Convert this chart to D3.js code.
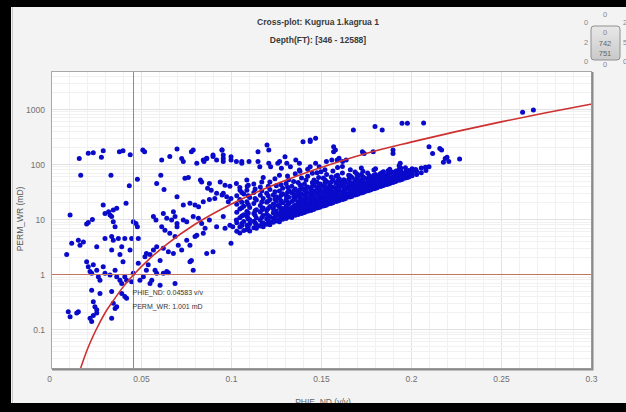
<!DOCTYPE html>
<html>
<head>
<meta charset="utf-8">
<script src="https://cdn.jsdelivr.net/npm/d3@7"></script>
<style>
  body { margin: 0; background: #000; }
  svg { display: block; }
</style>
</head>
<body>
<div id="chart"></div>
<script>
// chart texts
const title1 = "Cross-plot: Kugrua 1.kagrua 1"
const title2 = "Depth(FT): [346 - 12588]"
const xTitle = "PHIE_ND (v/v)"
const yTitle = "PERM_WR (mD)"

const xTicks = [0, 0.05, 0.1, 0.15, 0.2, 0.25, 0.3]
const xTickLabels = ["0", "0.05", "0.1", "0.15", "0.2", "0.25", "0.3"]
const yTicks = [0.1, 1, 10, 100, 1000]
const yTickLabels = ["0.1", "1", "10", "100", "1000"]

// crosshair readout
const cursorPhi = 0.04583
const cursorPerm = 1.001

// scattered samples [PHIE_ND, PERM_WR]
const samples = [
  [0.0157,129],[0.0207,160],[0.0235,163],[0.029,178],[0.028,135],[0.038,171],[0.040,178],[0.044,150],
  [0.051,184],[0.052,171],[0.0615,121],[0.070,192],[0.066,139],[0.0726,129],[0.0735,113],[0.078,171],
  [0.079,184],[0.081,105],[0.0846,121],[0.0865,129],[0.090,139],[0.095,184],[0.0957,129],[0.100,121],[0.106,113],
  [0.0165,64],[0.0333,64],[0.048,54],[0.061,64],[0.0744,56],[0.0763,58],[0.083,52],[0.0837,48],[0.088,45],
  [0.094,48],[0.0967,42],[0.0994,40],[0.103,45],[0.105,34],[0.109,40],[0.0435,41],[0.0587,45],[0.0628,35],
  [0.087,37],[0.089,34],[0.092,30],[0.095,28],[0.0976,26],[0.100,24],
  [0.070,26],[0.029,18.4],[0.032,13.9],[0.030,12.9],[0.0328,12.1],[0.0346,14.9],[0.0365,16],[0.0417,19.7],
  [0.0735,18.4],[0.0772,19.7],[0.080,18.4],[0.082,17.1],[0.0846,21],[0.088,23],[0.091,24],[0.0957,30],[0.0985,21],
  [0.0106,12.1],[0.023,10],[0.0198,8.3],[0.0207,8.8],[0.0337,11.3],[0.0346,9.1],[0.0356,7.4],[0.0457,9.1],
  [0.0472,8.5],[0.048,7.4],[0.0569,11.3],[0.0583,9.8],[0.0624,12.9],[0.0643,10.5],[0.067,9.8],[0.068,13.9],
  [0.0689,11.3],[0.070,8.5],[0.0735,9.8],[0.0754,9.1],[0.079,11.3],[0.0819,10.5],[0.0837,8.5],[0.0856,6.9],
  [0.088,9.8],[0.092,7.4],[0.0957,11.3],[0.0967,6.9],[0.0994,7.9],[0.101,7.4],[0.103,9.8],[0.106,8.5],[0.109,11.3],
  [0.0152,4.2],[0.0161,3.4],[0.0115,3.7],[0.018,3.9],[0.0254,3.2],[0.030,4.5],[0.0337,4.9],[0.0346,4.2],
  [0.0374,4.5],[0.041,4.5],[0.0448,4.5],[0.0485,4.5],[0.0337,2.8],[0.0383,2.3],[0.0393,3.2],[0.0087,2.3],
  [0.040,1.7],[0.0439,2.8],[0.053,2.4],[0.0522,2.1],[0.055,2.3],[0.0569,2.8],[0.0587,3.2],[0.0606,1.8],
  [0.0624,3.0],[0.0652,2.6],[0.068,2.4],[0.0707,3.4],[0.0726,2.8],[0.0754,4.2],[0.0772,3.4],[0.081,5.2],
  [0.080,4.9],[0.0846,5.6],[0.0865,2.4],[0.090,2.6],[0.100,3.7],[0.0615,7.4],[0.0633,6.4],[0.066,5.6],
  [0.0689,4.9],[0.070,7.4],
  [0.0198,1.7],[0.0207,1.39],[0.0217,1.13],[0.0226,1.05],[0.0235,1.5],[0.0254,1.2],[0.0263,0.91],[0.029,1.39],
  [0.030,1.05],[0.0272,0.79],[0.0328,0.98],[0.0356,1.2],[0.0365,0.91],[0.0383,0.79],[0.0393,0.69],[0.041,0.91],
  [0.042,0.79],[0.0448,0.74],[0.0457,1.05],[0.0494,0.79],[0.0513,0.91],[0.053,1.2],[0.054,1.5],[0.055,0.69],
  [0.056,0.79],[0.0578,1.2],[0.0587,1.05],[0.0606,0.64],[0.0624,1.05],[0.0643,1.13],[0.0652,1.08],[0.0689,0.69],
  [0.0772,1.7],[0.078,1.8],[0.079,1.2],[0.0485,1.6],
  [0.0226,0.52],[0.0272,0.45],[0.0337,0.49],[0.0393,0.45],[0.042,0.37],[0.041,0.40],[0.0235,0.32],[0.0244,0.26],
  [0.0254,0.23],[0.0346,0.30],[0.0356,0.24],[0.0365,0.26],[0.0096,0.21],[0.0106,0.17],[0.0143,0.20],[0.0152,0.21],
  [0.0217,0.16],[0.0235,0.18],[0.0226,0.14],[0.0254,0.20],[0.0337,0.16],
  [0.168,424],[0.180,490],[0.184,424],[0.195,560],[0.198,560],[0.207,570],[0.140,260],[0.144,279],[0.147,299],
  [0.120,226],[0.121,184],[0.115,171],[0.157,211],[0.157,171],[0.158,184],[0.095,184],[0.0957,149],[0.0957,113],
  [0.090,149],[0.0865,130],[0.085,113],[0.092,121],[0.100,138],[0.106,105],[0.103,113],[0.110,113],[0.115,113],
  [0.116,91],[0.121,105],[0.122,91],[0.126,105],[0.127,113],[0.128,85],[0.130,138],[0.131,105],[0.133,91],
  [0.136,121],[0.138,105],[0.138,79],[0.144,91],[0.147,105],[0.149,91],[0.150,74],[0.153,113],[0.156,121],
  [0.159,121],[0.160,130],[0.162,113],[0.164,121],[0.173,171],[0.174,159],[0.179,171],[0.190,184],[0.190,159],
  [0.194,105],[0.210,211],[0.212,159],[0.216,196],[0.219,129],[0.221,113],[0.217,184],[0.227,126],[0.220,135],
  [0.218,110],[0.210,91],[0.208,89],[0.2026,81],[0.201,77],[0.144,262],[0.262,890],[0.268,980]
]

// dense band, one column of PERM_WR readings per PHIE_ND value
const bandColumns = [
  [0.1032,[6.1,8.7,13.5,19,27]],
  [0.1049,[5.7,7.3,10.8,15.5,23,38]],
  [0.1060,[7.8,11.6,16.4,20.5,31]],
  [0.1071,[6.3,9.2,12.2,17.5,29]],
  [0.1088,[6.6,7.9,11.4,14,21,34,52]],
  [0.1096,[7.3,10.2,13.1,18.8,27,42]],
  [0.1104,[6.2,8.4,9.9,16.5,25]],
  [0.1127,[7.1,9.3,12.8,19.5,31,44]],
  [0.1134,[8.7,11.9,14.4,24,36]],
  [0.1141,[6.9,8.1,10.6,15,22.5]],
  [0.1163,[7.6,9.8,13.7,18,27.5,39]],
  [0.1171,[8.3,10.9,14.9,20.8,33,48]],
  [0.1179,[7.4,8.6,11.8,16.2,24,58]],
  [0.1198,[8.2,10.2,12.4,14.8,20.5,30]],
  [0.1207,[9.6,11.7,15.9,21.8,27,40]],
  [0.1216,[8.0,9.1,11.2,17.2,23,35,48]],
  [0.1235,[8.9,10.6,13.3,15.7,19.2,28]],
  [0.1244,[9.9,12.7,17.9,23.5,32,55]],
  [0.1252,[9.4,11.8,14.2,21.5,26,41]],
  [0.1269,[9.1,10.3,12.6,16.8,18.5,24.5,33,64]],
  [0.1278,[11.1,13.2,15.3,22,27.5,43]],
  [0.1287,[10.1,11.4,13.9,15.9,20.2,29.5,37]],
  [0.1306,[10.4,12.2,14.6,17.6,22.8,27,45]],
  [0.1314,[11.7,13.9,16.4,20.8,31,39,62]],
  [0.1321,[11.1,13.1,15.3,19.4,25.5,34,53]],
  [0.1338,[10.9,12.4,14.1,16.4,21.2,30.5,40]],
  [0.1348,[12.7,14.9,17.5,22.4,26,33,49]],
  [0.1357,[11.9,13.6,16.1,18.2,23.5,28,36,68]],
  [0.1373,[12.3,14.4,17.3,20.6,26.5,32,47]],
  [0.1383,[13.2,16.2,18.5,22.3,28.4,35,43,75]],
  [0.1392,[12.9,13.8,15.6,19,24.2,29.5,38,57]],
  [0.1408,[13.4,15.2,17.8,21.7,27.5,34.5,44]],
  [0.1417,[14.3,16.9,19.9,23.6,30,37,52]],
  [0.1426,[14.1,16.3,18.6,20.4,25,31,39,61,82]],
  [0.1443,[14.6,15.7,19.2,22.8,28.5,36]],
  [0.1452,[15.1,18.2,21.2,26.2,31.5,40,47,69]],
  [0.1461,[15.3,17.4,20.8,24.6,27,33,42,52]],
  [0.1478,[16.2,18.1,21.4,23.8,30,37.5,48,71]],
  [0.1487,[16.6,19.3,23.1,27.3,33.5,41,58]],
  [0.1496,[16.8,19.5,22.5,26,29,35,44]],
  [0.1513,[17.6,18.9,21.9,25.3,31.5,40,57]],
  [0.1522,[17.9,20.7,24.6,28.8,36.5,46,53,80]],
  [0.1531,[18.4,20.3,23.7,27.8,33,38,49,66]],
  [0.1548,[19.3,21.6,24.4,29,35.5,43]],
  [0.1557,[19.8,22.8,26.9,31,37.5,48,59]],
  [0.1566,[20.1,22.4,25.8,28.2,32,39,52,76]],
  [0.1583,[21.2,23.3,27.1,30.6,36.5,46,61]],
  [0.1592,[21.6,24.2,28.8,34.6,40,50,64,88]],
  [0.1601,[22.1,24.8,26.6,33.2,38,45,55]],
  [0.1619,[23.2,25.3,28.4,31.9,41,50,70,92]],
  [0.1627,[23.7,26.1,30.6,36.8,44,53]],
  [0.1636,[24.1,26.9,30.1,34.8,39,48]],
  [0.1654,[25.6,27.8,29.6,36.2,43,54,64]],
  [0.1663,[26,29,33.3,39.6,47,62,80]],
  [0.1672,[26.4,29.3,32.4,38.3,46,58]],
  [0.1689,[27.8,30.7,34.1,37,42,51,73]],
  [0.1698,[28.4,31.2,36.4,43.6,56,68]],
  [0.1707,[29.1,31.6,35.9,40.5,49,61]],
  [0.1724,[30.2,33.4,37.6,44,53,66,86]],
  [0.1733,[31,33.9,40.6,47.6,60,75]],
  [0.1742,[31.8,34.6,39.2,42.5,47,57]],
  [0.1759,[33.3,36.2,41.4,46.5,55,70]],
  [0.1768,[34.1,37.3,44.7,52.4,63]],
  [0.1777,[34.9,38.1,43.2,50.5,59]],
  [0.1794,[36.1,39.8,45.3,53,64,79]],
  [0.1803,[37,40.7,48.6,57,66,84]],
  [0.1812,[37.9,41.6,47.4,55.5,61]],
  [0.1829,[39.6,43.7,49.8,58,68]],
  [0.1838,[40.5,44.6,51,60,71]],
  [0.1847,[41.4,45.2,52.1,62,74]],
  [0.1864,[43.2,47.6,54.5,65]],
  [0.1873,[44.2,48.9,55.6,63,77]],
  [0.1882,[45.3,49.8,57,69,82]],
  [0.1899,[47.1,52.2,59.5,72]],
  [0.1908,[48.3,53.1,61.5,70]],
  [0.1917,[49.4,54.6,63,76]],
  [0.1934,[51.6,57.3,66,81,95]],
  [0.1943,[52.8,58.6,67,75,86]],
  [0.1952,[54.1,60.2,69]],
  [0.1969,[56.7,62.8,73,87]],
  [0.1978,[58,64,71]],
  [0.1988,[59.4,66.5,78]],
  [0.2006,[62.3,71,84]],
  [0.2031,[66,75]],
  [0.2057,[71,86]],
  [0.2083,[78]]
]

// fitted trend curve
const fitPhi  = [0.0165, 0.02, 0.025, 0.03, 0.035, 0.04, 0.046, 0.055, 0.065, 0.08, 0.1, 0.125, 0.15, 0.175, 0.2, 0.225, 0.25, 0.275, 0.3]
const fitPerm = [0.02, 0.042, 0.098, 0.2, 0.35, 0.59, 1, 1.97, 3.7, 8.2, 19, 44, 88, 159, 255, 395, 595, 870, 1250]

// sample counter widget
const counterTop = "0", counterMid = "742", counterBot = "751"

const W = 626, H = 412
let dim = {left: 51, right: 591, top: 71, bottom: 368}

let svg = d3.select('#chart').append('svg')
    .attr('width', W)
    .attr('height', H)
    .style('font-family', '"Liberation Sans", Arial, sans-serif')

// frame and panel
svg.append('rect').attr('width', W).attr('height', H).attr('fill', '#000')
svg.append('rect')
    .attr('x', 11).attr('y', 7).attr('width', W - 11).attr('height', 396)
    .attr('fill', '#f3f3f3')
svg.append('line')
    .attr('x1', 12.5).attr('x2', 12.5).attr('y1', 7).attr('y2', 403)
    .attr('stroke', '#c8c8c8')

let scaleX = d3.scaleLinear().domain([0, 0.3]).range([dim.left, dim.right])
let scaleY = d3.scaleLog().domain([0.02, 5000]).range([dim.bottom, dim.top])

// plot background
svg.append('rect')
    .attr('x', dim.left).attr('y', dim.top)
    .attr('width', dim.right - dim.left).attr('height', dim.bottom - dim.top)
    .attr('fill', '#fff')

// grid
let grid = svg.append('g')
let minorX = d3.range(1, 30).map(i => i / 100)
grid.selectAll('.gx')
    .data(minorX)
    .enter().append('line')
    .attr('x1', d => scaleX(d)).attr('x2', d => scaleX(d))
    .attr('y1', dim.top).attr('y2', dim.bottom)
    .attr('stroke', d => xTicks.some(t => Math.abs(t - d) < 1e-9) ? '#e2e2e2' : '#f1f1f1')
    .attr('shape-rendering', 'crispEdges')

let minorY = scaleY.ticks().filter(d => d > 0.02 && d < 5000)
grid.selectAll('.gy')
    .data(minorY)
    .enter().append('line')
    .attr('x1', dim.left).attr('x2', dim.right)
    .attr('y1', d => scaleY(d)).attr('y2', d => scaleY(d))
    .attr('stroke', d => yTicks.includes(d) ? '#e2e2e2' : '#f1f1f1')
    .attr('shape-rendering', 'crispEdges')

// points
let points = samples.concat(bandColumns.flatMap(c => c[1].map(p => [c[0], p])))
svg.append('g')
    .selectAll('circle')
    .data(points)
    .enter().append('circle')
    .attr('cx', d => scaleX(d[0]))
    .attr('cy', d => scaleY(d[1]))
    .attr('r', 2.5)
    .attr('fill', '#0a0acb')

// crosshair
let cx = Math.round(scaleX(cursorPhi)) + 0.5
let cy = Math.round(scaleY(cursorPerm)) + 0.5
svg.append('line')
    .attr('x1', cx).attr('x2', cx)
    .attr('y1', dim.top).attr('y2', dim.bottom)
    .attr('stroke', '#c47563').attr('stroke-width', 1)
svg.append('line')
    .attr('x1', dim.left).attr('x2', dim.right)
    .attr('y1', cy).attr('y2', cy)
    .attr('stroke', '#c47563').attr('stroke-width', 1)

// fit curve
let fit = fitPhi.map((p, i) => [p, fitPerm[i]])
svg.append('path')
    .datum(fit)
    .attr('fill', 'none')
    .attr('stroke', '#cc3030')
    .attr('stroke-width', 1.6)
    .attr('d', d3.line().x(d => scaleX(d[0])).y(d => scaleY(d[1])).curve(d3.curveMonotoneX))

// readout text
let readout = svg.append('g')
    .attr('font-size', 7).attr('fill', '#333')
readout.append('text')
    .attr('x', cx - 1).attr('y', cy + 20)
    .text('PHIE_ND: ' + cursorPhi + ' v/v')
readout.append('text')
    .attr('x', cx - 1).attr('y', cy + 34)
    .text('PERM_WR: ' + cursorPerm + ' mD')

// plot border
svg.append('rect')
    .attr('x', dim.left + 0.5).attr('y', dim.top + 0.5)
    .attr('width', dim.right - dim.left).attr('height', dim.bottom - dim.top)
    .attr('fill', 'none').attr('stroke', '#a8a8a8')
svg.append('path')
    .attr('d', `M${dim.right + 1.5},${dim.top + 1}V${dim.bottom + 1.5}H${dim.left + 1}`)
    .attr('fill', 'none').attr('stroke', '#8a8a8a').attr('stroke-width', 2)

// axes
let axisX = d3.axisBottom(scaleX).tickValues(xTicks).tickSize(0).tickPadding(8)
    .tickFormat((d, i) => xTickLabels[i])
let axisY = d3.axisLeft(scaleY).tickValues(yTicks).tickSize(0).tickPadding(6)
    .tickFormat((d, i) => yTickLabels[i])

let gx = svg.append('g')
    .attr('transform', `translate(0,${dim.bottom})`)
    .call(axisX)
let gy = svg.append('g')
    .attr('transform', `translate(${dim.left},0)`)
    .call(axisY)
;[gx, gy].forEach(g => {
    g.select('.domain').remove()
    g.selectAll('text')
        .attr('fill', '#707070')
        .style('font-family', '"Liberation Sans", Arial, sans-serif')
        .style('font-size', '8.5px')
})
gx.select('text').attr('dx', -2)

// axis titles
svg.append('text')
    .attr('transform', 'translate(23,219) rotate(-90)')
    .attr('text-anchor', 'middle')
    .attr('font-size', 8.5).attr('fill', '#555')
    .text(yTitle)
svg.append('text')
    .attr('x', 323).attr('y', 405)
    .attr('text-anchor', 'middle')
    .attr('font-size', 8.5).attr('fill', '#666')
    .text(xTitle)

// titles
svg.append('text')
    .attr('x', 318).attr('y', 25)
    .attr('text-anchor', 'middle')
    .attr('font-size', 8.5).attr('font-weight', 'bold').attr('fill', '#3a3a3a')
    .text(title1)
svg.append('text')
    .attr('x', 318).attr('y', 43)
    .attr('text-anchor', 'middle')
    .attr('font-size', 8.5).attr('font-weight', 'bold').attr('fill', '#3a3a3a')
    .text(title2)

// counter widget
let defs = svg.append('defs')
let grad = defs.append('linearGradient').attr('id', 'cbox').attr('x1', 0).attr('x2', 0).attr('y1', 0).attr('y2', 1)
grad.append('stop').attr('offset', '0%').attr('stop-color', '#e8e8e8')
grad.append('stop').attr('offset', '100%').attr('stop-color', '#c9c9c9')
let wg = svg.append('g')
    .attr('font-size', 7.5).attr('fill', '#888').attr('text-anchor', 'middle')
wg.append('rect')
    .attr('x', 591).attr('y', 26).attr('width', 29).attr('height', 34).attr('rx', 3)
    .attr('fill', 'url(#cbox)').attr('stroke', '#909090')
let corner = [[605, 17, '0'], [586, 25, '0'], [625, 25, '2'], [586, 45, '2'], [625, 45, '5'],
              [586, 64, '0'], [625, 64, '0'], [605, 67, '0']]
wg.selectAll('.cn').data(corner).enter().append('text')
    .attr('x', d => d[0]).attr('y', d => d[1]).text(d => d[2])
wg.append('text').attr('x', 605).attr('y', 35).text(counterTop)
wg.append('text').attr('x', 605).attr('y', 46).attr('fill', '#666').text(counterMid)
wg.append('text').attr('x', 605).attr('y', 56).attr('fill', '#666').text(counterBot)

// bottom frame bar
svg.append('rect').attr('x', 0).attr('y', 403).attr('width', W).attr('height', H - 403).attr('fill', '#000')
</script>
</body>
</html>
